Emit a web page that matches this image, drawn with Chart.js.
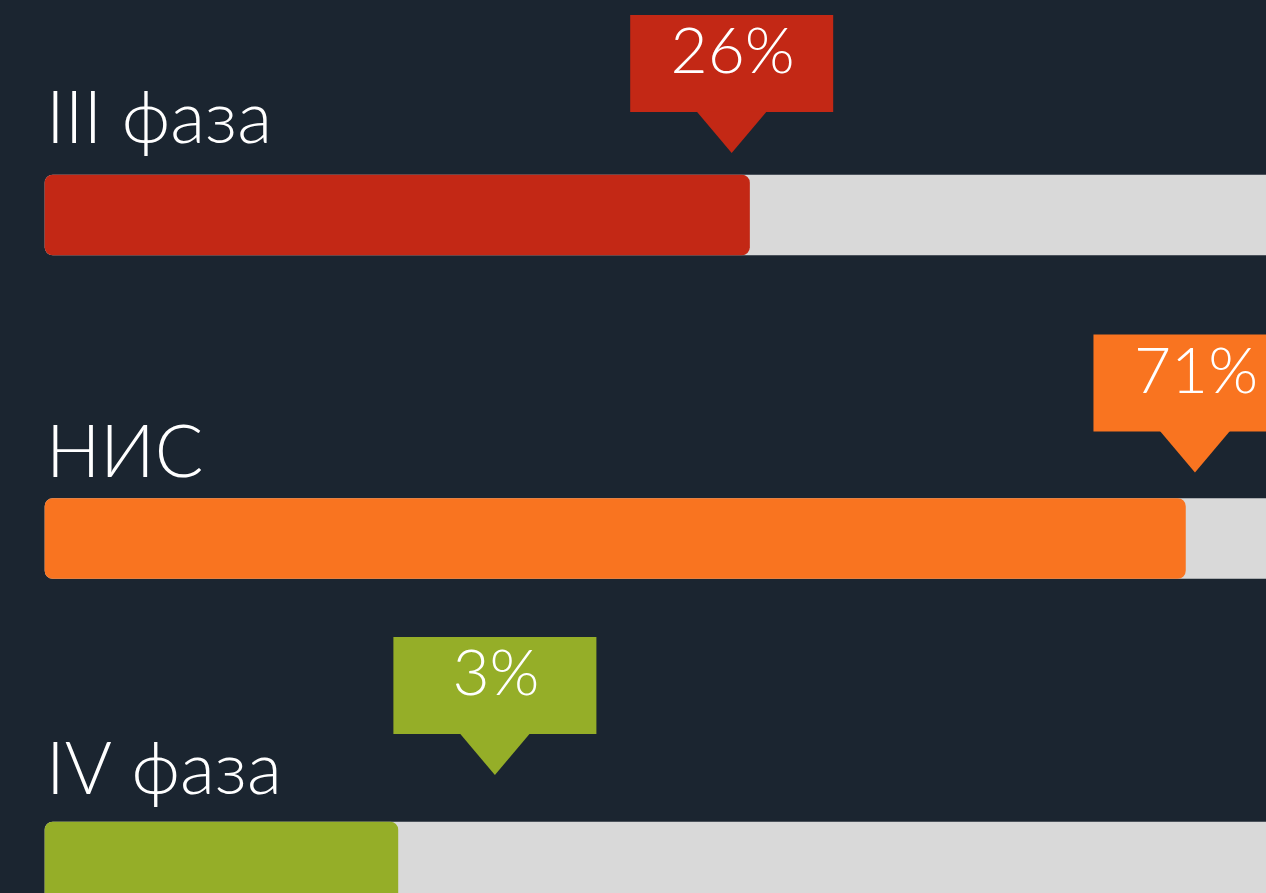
<!DOCTYPE html>
<html>
<head>
<meta charset="utf-8">
<script src="https://cdn.jsdelivr.net/npm/chart.js@4/dist/chart.umd.min.js"></script>
<style>
  html, body { margin: 0; padding: 0; background: #1b2530; overflow: hidden; }
  #chart { display: block; }
</style>
</head>
<body>
<canvas id="chart" width="1266" height="893"></canvas>
<script>
// Data
const categories = ['III фаза', 'НИС', 'IV фаза'];
const shares = [26, 71, 3];               // numbers printed in the callouts, %
const fillLevels = [57.7, 93.4, 28.9];    // how far each bar is filled, % of the grey track

// Styles
const BG = '#1b2530';
const TRACK_COLOR = '#d9d9d9';
const BAR_COLORS = ['#c32815', '#f97420', '#95ae28'];
const FONT = 'Lato, "Open Sans", sans-serif';
const LABEL_GAP = [32, 22, 28];     // label baseline above the bar top
const CALLOUT_GAP = [22, 26, 47];   // callout tip above the bar top
const CALLOUT_W = 203;
const CALLOUT_H = 97;
const ARROW_W = 70;
const ARROW_H = 41;
// the callouts sit on their own (hidden) percent axis
const CALLOUT_AXIS_MIN = -40.7;
const CALLOUT_AXIS_MAX = 77.9;

const labelsPlugin = {
  id: 'labelsAndCallouts',
  afterDatasetsDraw(chart) {
    const ctx = chart.ctx;
    const meta = chart.getDatasetMeta(0);
    const xs = chart.scales.share;
    ctx.save();
    meta.data.forEach((bar, i) => {
      const top = bar.y - bar.height / 2;

      // category label
      ctx.fillStyle = '#ffffff';
      ctx.font = '300 72px ' + FONT;
      ctx.textAlign = 'left';
      ctx.textBaseline = 'alphabetic';
      ctx.fillText(categories[i], chart.chartArea.left + 1, top - LABEL_GAP[i]);

      // callout with arrow
      const tipX = xs.getPixelForValue(shares[i]);
      const tipY = top - CALLOUT_GAP[i];
      const boxBottom = tipY - ARROW_H;
      const boxTop = boxBottom - CALLOUT_H;
      ctx.fillStyle = BAR_COLORS[i];
      ctx.fillRect(tipX - CALLOUT_W / 2, boxTop, CALLOUT_W, CALLOUT_H);
      ctx.beginPath();
      ctx.moveTo(tipX - ARROW_W / 2, boxBottom - 0.5);
      ctx.lineTo(tipX + ARROW_W / 2, boxBottom - 0.5);
      ctx.lineTo(tipX, tipY);
      ctx.closePath();
      ctx.fill();

      ctx.fillStyle = '#ffffff';
      ctx.font = '300 64px ' + FONT;
      ctx.textAlign = 'center';
      ctx.fillText(shares[i] + '%', tipX + 1, boxTop + 58);
    });
    ctx.restore();
  }
};

const chart = new Chart(document.getElementById('chart'), {
  type: 'bar',
  data: {
    labels: categories,
    datasets: [
      {
        label: 'fill',
        data: fillLevels,
        backgroundColor: BAR_COLORS,
        borderRadius: 8,
        borderSkipped: false,
        grouped: false,
        barThickness: 80,
        clip: false,
      },
      {
        label: 'track',
        data: categories.map(() => 100),
        backgroundColor: TRACK_COLOR,
        borderRadius: { topLeft: 8, bottomLeft: 8, topRight: 0, bottomRight: 0 },
        borderSkipped: false,
        grouped: false,
        barThickness: 80,
        clip: false,
      },
    ],
  },
  options: {
    indexAxis: 'y',
    responsive: false,
    devicePixelRatio: 1,
    animation: false,
    layout: { padding: { left: 45, right: 0, top: 215, bottom: 31 } },
    plugins: { legend: { display: false }, tooltip: { enabled: false } },
    scales: {
      x: { display: false, min: 0, max: 100 },
      share: { axis: 'x', type: 'linear', display: false, min: CALLOUT_AXIS_MIN, max: CALLOUT_AXIS_MAX },
      y: { display: false, offset: false },
    },
  },
  plugins: [labelsPlugin],
});
</script>
</body>
</html>
